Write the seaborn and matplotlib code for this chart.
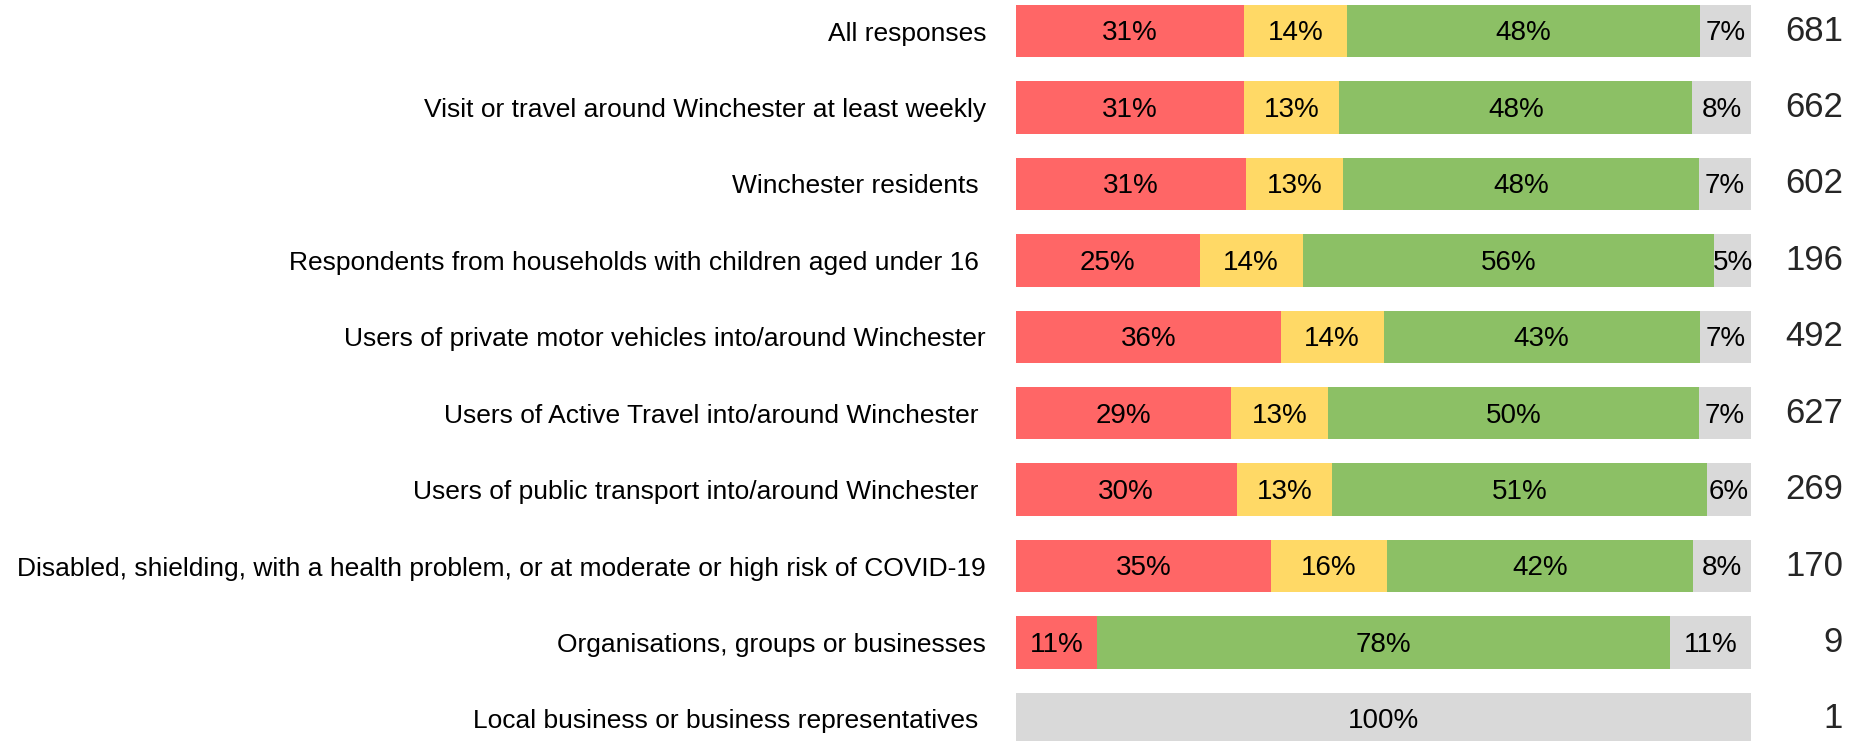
import numpy as np
import pandas as pd
import matplotlib
matplotlib.use("Agg")
import matplotlib.pyplot as plt
import seaborn as sns

groups = [
    "All responses",
    "Visit or travel around Winchester at least weekly",
    "Winchester residents ",
    "Respondents from households with children aged under 16 ",
    "Users of private motor vehicles into/around Winchester",
    "Users of Active Travel into/around Winchester ",
    "Users of public transport into/around Winchester ",
    "Disabled, shielding, with a health problem, or at moderate or high risk of COVID-19",
    "Organisations, groups or businesses",
    "Local business or business representatives ",
]
red = [31, 31, 31, 25, 36, 29, 30, 35, 11, 0]
yellow = [14, 13, 13, 14, 14, 13, 13, 16, 0, 0]
green = [48, 48, 48, 56, 43, 50, 51, 42, 78, 0]
grey = [7, 8, 7, 5, 7, 7, 6, 8, 11, 100]
n_resp = [681, 662, 602, 196, 492, 627, 269, 170, 9, 1]

colours = ["#FF6666", "#FFD966", "#8CC065", "#D9D9D9"]

df = pd.DataFrame({"group": groups, "red": red, "yellow": yellow,
                   "green": green, "grey": grey})
parts = ["red", "yellow", "green", "grey"]
# 100% stacked: scale each row so it fills the bar
tot = df[parts].sum(axis=1)
share = df[parts].div(tot, axis=0) * 100
cum = share.cumsum(axis=1)

sns.set_style("white")
plt.rcParams["font.family"] = ["Liberation Sans", "DejaVu Sans"]

fig = plt.figure(figsize=(18.68, 7.41), dpi=100)
ax = fig.add_axes([1016 / 1868, 0, 735 / 1868, 1])

# draw widest first so the shorter ones sit on top
for p, c in zip(parts[::-1], colours[::-1]):
    sns.barplot(x=cum[p], y=df["group"], color=c, width=0.685,
                saturation=1, linewidth=0, ax=ax, orient="h")

for i in range(len(groups)):
    start = 0
    for p in parts:
        w = share.loc[i, p]
        if df.loc[i, p] > 0:
            ax.text(start + w / 2, i + 0.03, f"{df.loc[i, p]}%", ha="center",
                    va="center", fontsize=20, color="black")
        start += w
    ax.text(1.125, i, str(n_resp[i]), ha="right", va="center", fontsize=25,
            transform=ax.get_yaxis_transform())

ax.set_xlim(0, 100)
ax.set_ylim(9.29, -0.408)
ax.set_xlabel("")
ax.set_ylabel("")
ax.set_xticks([])
ax.tick_params(axis="y", length=0, pad=21.6, labelsize=19, labelcolor="black")
sns.despine(ax=ax, left=True, bottom=True)

fig.savefig("out.png", dpi=100)
plt.close()
